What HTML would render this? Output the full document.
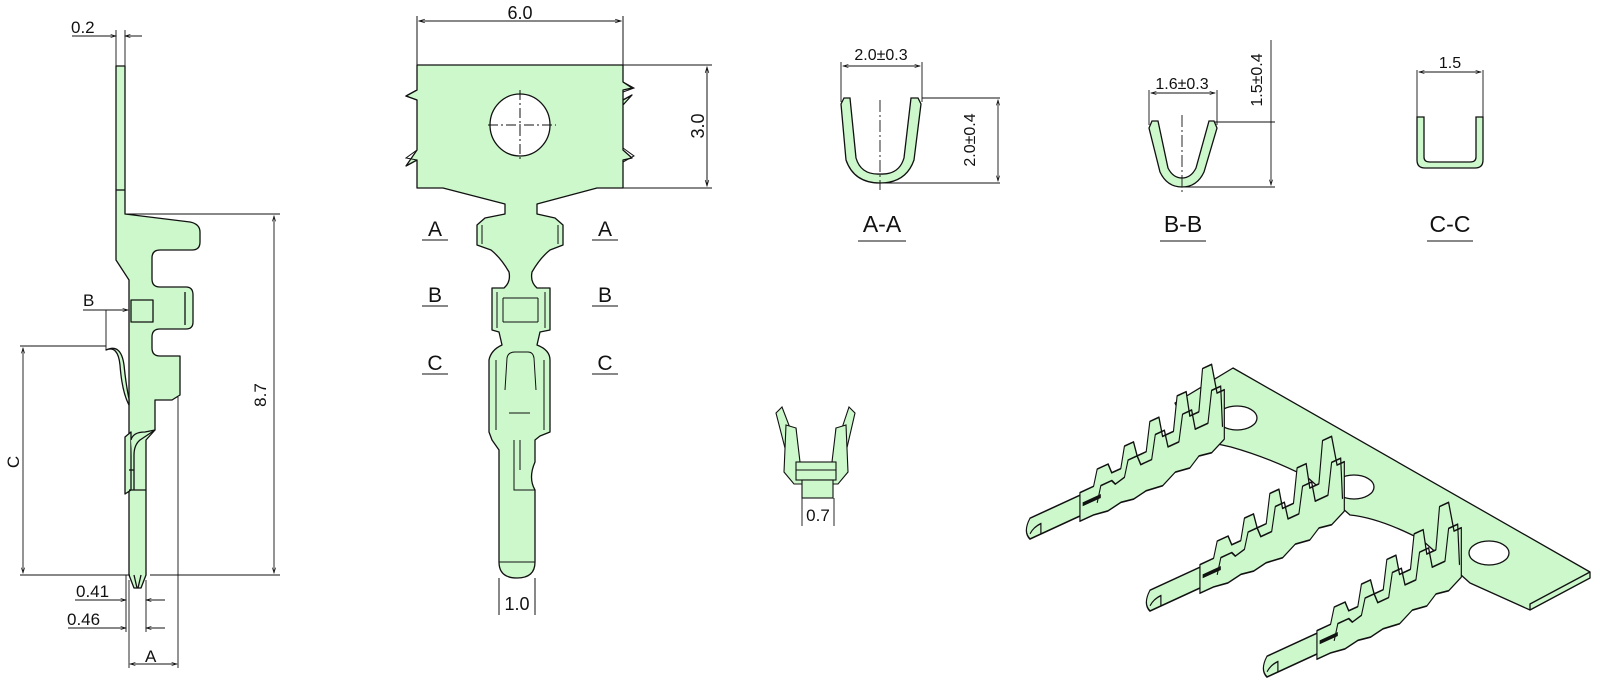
<!DOCTYPE html>
<html><head><meta charset="utf-8"><style>
html,body{margin:0;padding:0;background:#fff;}
svg{display:block;}
text{font-family:"Liberation Sans",sans-serif;fill:#111;}
</style></head><body>
<svg width="1600" height="691" viewBox="0 0 1600 691" xmlns="http://www.w3.org/2000/svg">
<defs>
<marker id="ar" viewBox="0 0 10 10" refX="10" refY="5" markerWidth="8" markerHeight="6" orient="auto-start-reverse"><path d="M0,2 L10,5 L0,8" fill="none" stroke="#111" stroke-width="1.2"/></marker>
</defs>
<g fill="#ccf8cc" stroke="#111" stroke-width="1.3" stroke-linejoin="round">

<!-- ===== Left side view ===== -->
<path d="M116,66 L125,66 L125,214 L190,222 Q200,224 200,232 L200,242 Q200,250 192,250 L160,250 Q152,250 152,258 L152,279 Q152,287 160,287 L186,287 Q193,287 193,295 L193,322 Q193,329 186,329 L160,329 Q152,329 152,337 L152,348 Q152,356 160,356 L180,356 L180,395 L172,400 L155,400 L155,430 L146,440 L146,575 L141,588 L134,588 L129,575 L129,280 L116,260 Z"/>
<line x1="116" y1="190" x2="125" y2="190"/>
<rect x="131" y="300" width="22" height="22"/>
<line x1="185" y1="292" x2="185" y2="325"/>
<path d="M106,350 Q118,345 120,365 Q122,392 129,405 L129,399 Q126,385 124,365 Q121,343 106,350 Z"/>
<path d="M125,437 L131,432 L131,490 L125,494 Z"/>
<path d="M131,440 Q133,432 145,432 L155,430 L140,440 Q134,445 134,455 L134,490"/>
<line x1="129" y1="490" x2="146" y2="490"/>
<line x1="129" y1="470" x2="134" y2="470"/>
<path d="M134,575 L137,588 M141,575 L138,588" fill="none"/>
</g>
<g stroke="#111" stroke-width="0.9" fill="none">
<line x1="116" y1="30" x2="116" y2="66"/><line x1="125" y1="30" x2="125" y2="66"/>
<line x1="72" y1="36" x2="116" y2="36" marker-end="url(#ar)"/><line x1="142" y1="36" x2="125" y2="36" marker-end="url(#ar)"/>
<line x1="125" y1="214" x2="280" y2="214"/><line x1="150" y1="575" x2="280" y2="575"/>
<line x1="274" y1="216" x2="274" y2="573" marker-start="url(#ar)" marker-end="url(#ar)"/>
<line x1="20" y1="346" x2="106" y2="346"/><line x1="20" y1="575" x2="130" y2="575"/>
<line x1="23" y1="348" x2="23" y2="573" marker-start="url(#ar)" marker-end="url(#ar)"/>
<line x1="83" y1="310" x2="128" y2="310" marker-end="url(#ar)"/><line x1="106" y1="310" x2="106" y2="350"/>
<line x1="126" y1="575" x2="126" y2="632"/><line x1="129" y1="580" x2="129" y2="668"/>
<line x1="146" y1="580" x2="146" y2="632"/><line x1="178" y1="397" x2="178" y2="668"/>
<line x1="75" y1="600" x2="126" y2="600" marker-end="url(#ar)"/><line x1="165" y1="600" x2="146" y2="600" marker-end="url(#ar)"/>
<line x1="68" y1="628" x2="126" y2="628" marker-end="url(#ar)"/><line x1="165" y1="628" x2="146" y2="628" marker-end="url(#ar)"/>
<line x1="130" y1="664" x2="177" y2="664" marker-start="url(#ar)" marker-end="url(#ar)"/>
</g>
<g font-size="17">
<text x="71" y="33">0.2</text>
<text x="266" y="395" transform="rotate(-90 266 395)" text-anchor="middle">8.7</text>
<text x="19" y="462" transform="rotate(-90 19 462)" text-anchor="middle">C</text>
<text x="83" y="306">B</text>
<text x="76" y="597">0.41</text>
<text x="67" y="625">0.46</text>
<text x="145" y="662">A</text>
</g>

<!-- ===== Middle top view ===== -->
<g fill="#ccf8cc" stroke="#111" stroke-width="1.3" stroke-linejoin="round">
<path d="M417,65 L623,65 L623,82 L632,88 L623,90 L623,105 L632,95 L623,100 L623,150 L632,158 L623,160 L623,188 L597,188 L537,204 L537,214 L555,218 L563,225 L563,245 L550,250 Q540,258 532,272 Q530,282 537,288 L550,288 L550,330 L540,332 L537,345 Q550,350 550,360 L550,432 L540,436 L535,440 L535,462 Q528,478 535,490 L535,562 Q535,578 517,578 Q499,578 499,562 L499,450 L492,440 L489,432 L489,360 Q491,350 502,345 L499,332 L492,330 L492,288 L504,288 Q511,282 509,272 Q501,258 491,250 L477,245 L477,225 L485,218 L505,214 L505,204 L443,188 L417,188 L417,160 L406,166 L417,150 L417,100 L406,96 L417,90 L417,65 Z"/>
<ellipse cx="520" cy="125" rx="30" ry="31" fill="#fff"/>
</g>
<g stroke="#111" stroke-width="1" fill="none">
<path d="M417,90 L406,96 L417,100 M417,150 L406,158 L417,160 M623,82 L634,88 L623,92 M623,148 L634,156 L623,162" />
<line x1="482" y1="225" x2="482" y2="244"/><line x1="558" y1="225" x2="558" y2="244"/>
<line x1="497" y1="292" x2="497" y2="328"/><line x1="545" y1="292" x2="545" y2="328"/>
<line x1="503" y1="298" x2="538" y2="298"/><line x1="503" y1="322" x2="538" y2="322"/>
<line x1="503" y1="298" x2="503" y2="322"/><line x1="538" y1="298" x2="538" y2="322"/>
<line x1="496" y1="360" x2="496" y2="430"/><line x1="544" y1="360" x2="544" y2="430"/>
<path d="M505,390 L507,358 Q508,352 515,352 L528,352 Q533,352 534,358 L536,390"/>
<line x1="509" y1="413" x2="530" y2="413"/>
<line x1="499" y1="562" x2="535" y2="562"/>
<path d="M514,440 L514,490 L535,490 M520,440 L520,470" />
<line x1="488" y1="125" x2="556" y2="125" stroke-dasharray="10,3,2,3"/>
<line x1="520" y1="90" x2="520" y2="160" stroke-dasharray="10,3,2,3"/>
<line x1="417" y1="16" x2="417" y2="65"/><line x1="623" y1="16" x2="623" y2="65"/>
<line x1="419" y1="21" x2="621" y2="21" marker-start="url(#ar)" marker-end="url(#ar)"/>
<line x1="623" y1="65" x2="712" y2="65"/><line x1="623" y1="188" x2="712" y2="188"/>
<line x1="707" y1="67" x2="707" y2="186" marker-start="url(#ar)" marker-end="url(#ar)"/>
<line x1="499" y1="578" x2="499" y2="615"/><line x1="535" y1="578" x2="535" y2="615"/>
<line x1="422" y1="240" x2="448" y2="240"/><line x1="422" y1="306" x2="448" y2="306"/><line x1="422" y1="374" x2="448" y2="374"/>
<line x1="592" y1="240" x2="618" y2="240"/><line x1="592" y1="306" x2="618" y2="306"/><line x1="592" y1="374" x2="618" y2="374"/>
</g>
<g font-size="18">
<text x="520" y="19" text-anchor="middle">6.0</text>
<text x="704" y="126" transform="rotate(-90 704 126)" text-anchor="middle">3.0</text>
<text x="517" y="610" text-anchor="middle">1.0</text>
</g>
<g font-size="21">
<text x="435" y="236" text-anchor="middle">A</text><text x="435" y="302" text-anchor="middle">B</text><text x="435" y="370" text-anchor="middle">C</text>
<text x="605" y="236" text-anchor="middle">A</text><text x="605" y="302" text-anchor="middle">B</text><text x="605" y="370" text-anchor="middle">C</text>
</g>

<!-- ===== Sections ===== -->
<g fill="#ccf8cc" stroke="#111" stroke-width="1.3">
<path d="M841,104 L844,98 L850,98 L856,158 Q861,175 880,174 Q899,175 904,158 L911,98 L918,98 L921,104 L914,160 Q906,183 880,183 Q854,183 846,160 Z"/>
<path d="M1149,128 L1152,121 L1158,121 L1168,168 Q1173,178 1182,178 Q1191,178 1196,168 L1209,121 L1214,121 L1217,128 L1204,172 Q1197,187 1182,187 Q1167,187 1160,172 Z"/>
<path d="M1417,117 L1424,117 L1424,157 Q1424,162 1430,162 L1470,162 Q1476,162 1476,157 L1476,117 L1483,117 L1483,160 Q1483,168 1475,168 L1425,168 Q1417,168 1417,160 Z"/>
</g>
<g stroke="#111" stroke-width="0.9" fill="none">
<line x1="880" y1="100" x2="880" y2="190" stroke-dasharray="12,3,2,3"/>
<line x1="1182" y1="115" x2="1182" y2="195" stroke-dasharray="12,3,2,3"/>
<line x1="841" y1="62" x2="841" y2="102"/><line x1="922" y1="62" x2="922" y2="102"/>
<line x1="843" y1="66" x2="920" y2="66" marker-start="url(#ar)" marker-end="url(#ar)"/>
<line x1="922" y1="98" x2="1000" y2="98"/><line x1="880" y1="183" x2="1000" y2="183"/>
<line x1="998" y1="100" x2="998" y2="181" marker-start="url(#ar)" marker-end="url(#ar)"/>
<line x1="1149" y1="90" x2="1149" y2="125"/><line x1="1217" y1="90" x2="1217" y2="125"/>
<line x1="1151" y1="93" x2="1215" y2="93" marker-start="url(#ar)" marker-end="url(#ar)"/>
<line x1="1214" y1="122" x2="1275" y2="122"/><line x1="1182" y1="187" x2="1275" y2="187"/>
<line x1="1271" y1="40" x2="1271" y2="185" marker-end="url(#ar)"/>
<line x1="1417" y1="70" x2="1417" y2="117"/><line x1="1483" y1="70" x2="1483" y2="117"/>
<line x1="1419" y1="72" x2="1481" y2="72" marker-start="url(#ar)" marker-end="url(#ar)"/>
<line x1="858" y1="241" x2="906" y2="241"/><line x1="1160" y1="241" x2="1206" y2="241"/><line x1="1427" y1="241" x2="1473" y2="241"/>
</g>
<g font-size="16">
<text x="881" y="60" text-anchor="middle">2.0±0.3</text>
<text x="975" y="140" transform="rotate(-90 975 140)" text-anchor="middle">2.0±0.4</text>
<text x="1182" y="89" text-anchor="middle">1.6±0.3</text>
<text x="1262" y="80" transform="rotate(-90 1262 80)" text-anchor="middle">1.5±0.4</text>
<text x="1450" y="68" text-anchor="middle">1.5</text>
<text x="882" y="232" text-anchor="middle" font-size="23">A-A</text>
<text x="1183" y="232" text-anchor="middle" font-size="23">B-B</text>
<text x="1450" y="232" text-anchor="middle" font-size="23">C-C</text>
</g>

<!-- ===== Front small view ===== -->
<g fill="#ccf8cc" stroke="#111" stroke-width="1.1">
<path d="M776,413 L782,407 L790,428 L796,428 L798,462 L786,452 Z"/>
<path d="M855,413 L849,407 L842,428 L836,428 L834,462 L846,452 Z"/>
<path d="M786,425 L796,428 L800,462 L832,462 L836,428 L846,425 L848,472 L838,484 L794,484 L784,472 Z"/>
<rect x="796" y="462" width="40" height="18"/>
<rect x="802" y="480" width="31" height="18"/>
<line x1="796" y1="470" x2="836" y2="470"/>
</g>
<g stroke="#111" stroke-width="0.9"><line x1="802" y1="498" x2="802" y2="526"/><line x1="834" y1="498" x2="834" y2="526"/></g>
<text x="818" y="521" font-size="17" text-anchor="middle">0.7</text>

<!-- ===== Isometric ===== -->
<g fill="#ccf8cc" stroke="#111" stroke-width="1.3" stroke-linejoin="round">
<path d="M1175,403 L1233,368 L1590,572 L1590,578 L1530,610 L1470,583 Q1450,565 1422,540 Q1380,518 1350,515 L1307,477 Q1270,458 1231,447 L1200,440 L1178,410 Z"/>
<path d="M1590,572 L1530,604 L1530,610" fill="none"/>
<ellipse cx="1237" cy="418" rx="20" ry="12" fill="#fff"/>
<ellipse cx="1354" cy="487" rx="20" ry="12" fill="#fff"/>
<ellipse cx="1489" cy="553" rx="20" ry="12" fill="#fff"/>
</g>
<g id="term" fill="#ccf8cc" stroke="#111" stroke-width="1.3" stroke-linejoin="round">
<g transform="matrix(0.908,-0.418,0,1.3,1030,526)">
<path d="M0,-6 L58,-6 L58,10 L0,10 Q-8,2 0,-6 Z"/>
<path d="M0,6 Q4,2 12,2 L12,10" fill="none"/>
<path d="M55,-8 L70,-8 L74,-20 L86,-20 L90,-12 L100,-12 L104,-28 L114,-28 L118,-16 L128,-16 L132,-38 L142,-38 L146,-22 L158,-22 L162,-48 L172,-48 L176,-28 L186,-28 L190,-60 L200,-60 L206,-36 L214,-36 L214,2 L200,8 L186,6 L176,12 L160,10 L146,16 L128,14 L114,16 L100,14 L86,16 L70,14 L55,14 Z"/>
<path d="M74,6 L78,-6 L90,-6 L94,-2 L104,-4 L108,-16 L118,-16 L122,-8 L134,-8 L138,-26 L148,-26 L152,-12 L164,-12 L168,-32 L178,-32 L182,-16 L196,-16 L200,-40 L210,-40 L212,-8" fill="none"/>
<path d="M58,2 L78,2" fill="none" stroke-width="3"/>
</g>
</g>
<use href="#term" transform="translate(120,72)"/>
<use href="#term" transform="translate(237,138)"/>
</svg>
</body></html>
